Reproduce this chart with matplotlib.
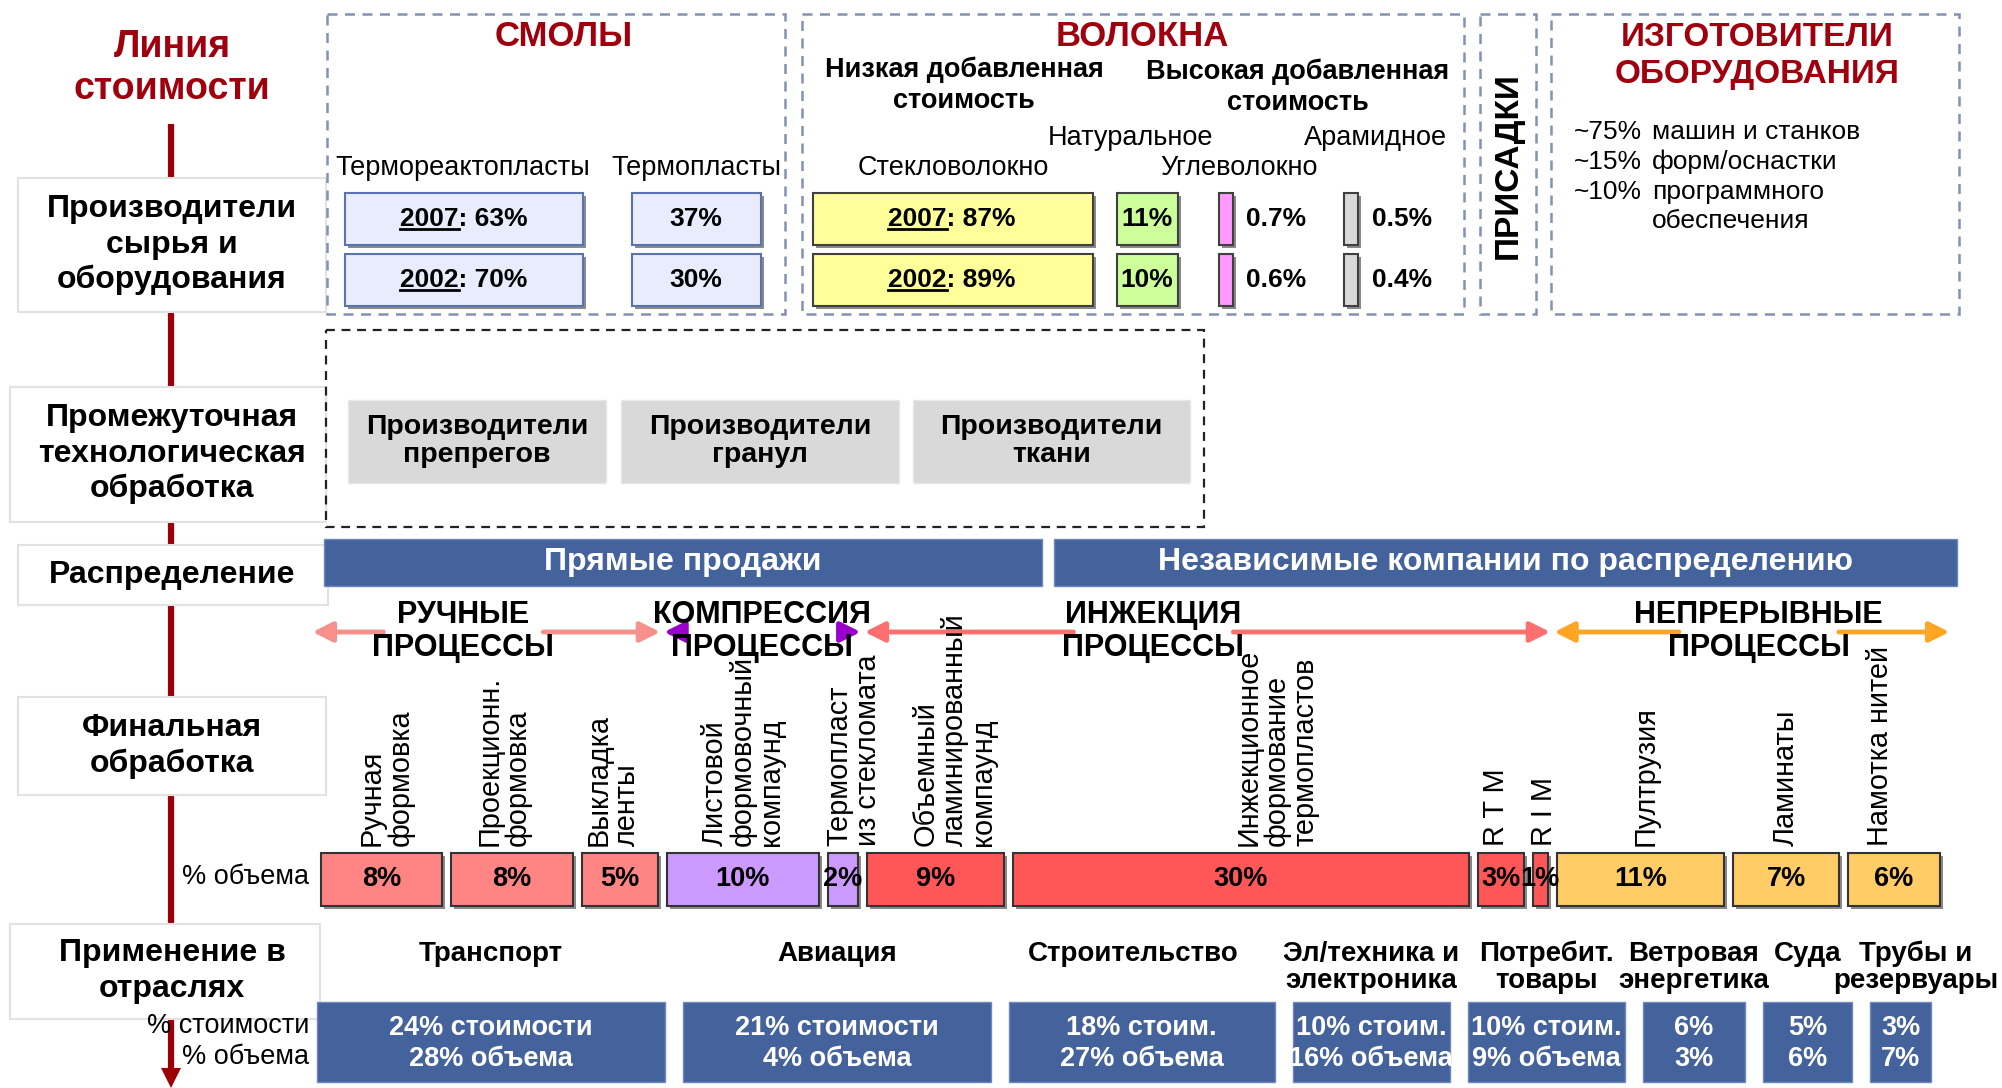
import matplotlib
matplotlib.use('Agg')
import matplotlib.pyplot as plt
from matplotlib.patches import Rectangle, Polygon

plt.rcParams['font.family'] = ['Liberation Sans', 'DejaVu Sans']

# ---- данные ----
stages = ['Производители\nсырья и\nоборудования', 'Промежуточная\nтехнологическая\nобработка',
          'Распределение', 'Финальная\nобработка', 'Применение в\nотраслях']
years = ['2007', '2002']
thermoset = [63, 70]
thermoplast = [37, 30]
glass_fiber = [87, 89]
natural_fiber = [11, 10]
carbon_fiber = [0.7, 0.6]
aramid_fiber = [0.5, 0.4]
equip_share = [75, 15, 10]
equip_items = ['машин и станков', 'форм/оснастки', 'программного\nобеспечения']
intermediates = ['Производители\nпрепрегов', 'Производители\nгранул', 'Производители\nткани']
channels = ['Прямые продажи', 'Независимые компании по распределению']
proc_groups = ['РУЧНЫЕ\nПРОЦЕССЫ', 'КОМПРЕССИЯ\nПРОЦЕССЫ', 'ИНЖЕКЦИЯ\nПРОЦЕССЫ', 'НЕПРЕРЫВНЫЕ\nПРОЦЕССЫ']
proc_names = ['Ручная\nформовка', 'Проекционн.\nформовка', 'Выкладка\nленты',
              'Листовой\nформовочный\nкомпаунд', 'Термопласт\nиз стекломата',
              'Объемный\nламинированный\nкомпаунд', 'Инжекционное\nформование\nтермопластов',
              'R T M', 'R I M', 'Пултрузия', 'Ламинаты', 'Намотка нитей']
proc_group = [0, 0, 0, 1, 1, 2, 2, 2, 2, 3, 3, 3]
proc_volume = [8, 8, 5, 10, 2, 9, 30, 3, 1, 11, 7, 6]
industries = ['Транспорт', 'Авиация', 'Строительство', 'Эл/техника и\nэлектроника',
              'Потребит.\nтовары', 'Ветровая\nэнергетика', 'Суда', 'Трубы и\nрезервуары']
ind_value = [24, 21, 18, 10, 10, 6, 5, 3]
ind_volume = [28, 4, 27, 16, 9, 3, 6, 7]
ind_value_word = ['стоимости', 'стоимости', 'стоим.', 'стоим.', 'стоим.', '', '', '']

# ---- оформление ----
DARK_RED = '#A0000E'
BLUE = '#44629C'
DASH = '#8492B2'
group_fill = ['#FF8585', '#CC99FF', '#FF5757', '#FFCC66']
group_arrow = ['#F5908C', '#9900CC', '#FF6F6F', '#FFA526']
heading_shift = [-23, 0, -54, 7]
label_shift = [5, -8, -7, 0, 11, 19, 36, -5, 4, 5, 0, -14]
header_shift = [0, 0, -8, 0, 0, 0, 0, 15]

W, H = 2002, 1088
fig = plt.figure(figsize=(W / 100, H / 100), dpi=100)
ax = fig.add_axes([0, 0, 1, 1])
ax.set_xlim(0, W)
ax.set_ylim(H, 0)
ax.axis('off')
rend = fig.canvas.get_renderer()


def txt(x, y, s, size, bold=False, color='black', ha='center', va='center', rot=0, z=5):
    return ax.text(x, y, s, fontsize=size, fontweight='bold' if bold else 'normal',
                   color=color, ha=ha, va=va, rotation=rot, zorder=z)


def lines(x, y0, s, step, size, bold=False, color='black', ha='center'):
    for i, ln in enumerate(s.split('\n')):
        txt(x, y0 + i * step, ln, size, bold, color, ha)


def box(x, y, w, h, fc, ec='none', lw=1.5, ls='-', z=2, shadow=False):
    if shadow:
        ax.add_patch(Rectangle((x + 3, y + 3), w, h, fc='#8a8a8a', ec='none', zorder=z - 0.5))
    ax.add_patch(Rectangle((x, y), w, h, fc=fc, ec=ec, lw=lw, ls=ls, zorder=z))


def year_text(cx, cy, year, value, size):
    # год подчёркнут, как в исходной схеме
    t = txt(cx, cy, f'{year}: {value}%', size, bold=True)
    full = t.get_window_extent(rend).width
    probe = txt(0, 0, year, size, bold=True)
    yw = probe.get_window_extent(rend).width
    probe.remove()
    x0 = cx - full / 2
    uy = cy + 0.5 * size
    ax.plot([x0, x0 + yw], [uy, uy], color='black', lw=2, zorder=6)


# ---- линия стоимости ----
lines(172, 47, 'Линия\nстоимости', 42, 27, bold=True, color=DARK_RED)
ax.plot([171, 171], [124, 1070], color='#9C0006', lw=4.5, solid_capstyle='butt', zorder=1)
ax.add_patch(Polygon([(161, 1068), (181, 1068), (171, 1088)], closed=True, fc='#9C0006', ec='none', zorder=1))

stage_box = [(18, 178, 308, 134), (10, 387, 316, 135), (18, 545, 310, 60), (18, 697, 308, 98), (10, 924, 310, 95)]
stage_y = [209, 418, 575, 728, 953]
for s, (bx, by, bw, bh), ty in zip(stages, stage_box, stage_y):
    box(bx, by, bw, bh, 'white', ec='#E2E2E2', lw=1.5, z=2)
    lines(172, ty, s, 35.5, 23, bold=True)

# ---- смолы ----
box(327, 14, 458, 300, 'none', ec=DASH, lw=1.8, ls=(0, (4, 3)), z=3)
txt(564, 37, 'СМОЛЫ', 25, bold=True, color=DARK_RED)
txt(463, 168, 'Термореактопласты', 19.5)
txt(696, 168, 'Термопласты', 19.5)
for i, yr in enumerate(years):
    by = 193 + i * 61
    box(345, by, 238, 52, '#E8ECFC', ec='#5873B0', lw=1.5, shadow=True)
    year_text(464, by + 26, yr, thermoset[i], 19)
    box(632, by, 129, 52, '#E8ECFC', ec='#5873B0', lw=1.5, shadow=True)
    txt(696, by + 26, f'{thermoplast[i]}%', 19, bold=True)

# ---- волокна ----
box(802, 14, 662, 300, 'none', ec=DASH, lw=1.8, ls=(0, (4, 3)), z=3)
txt(1142, 37, 'ВОЛОКНА', 25, bold=True, color=DARK_RED)
lines(964, 70, 'Низкая добавленная\nстоимость', 31, 19.5, bold=True)
lines(1298, 72, 'Высокая добавленная\nстоимость', 31, 19.5, bold=True)
txt(1131, 138, 'Натуральное', 19.5)
txt(1376, 138, 'Арамидное', 19.5)
txt(953, 168, 'Стекловолокно', 19.5)
txt(1239, 168, 'Углеволокно', 19.5)
for i, yr in enumerate(years):
    by = 193 + i * 61
    box(813, by, 280, 52, '#FFFF99', ec='#404040', lw=1.5, shadow=True)
    year_text(952, by + 26, yr, glass_fiber[i], 19)
    box(1117, by, 61, 52, '#CCFF99', ec='#404040', lw=1.5, shadow=True)
    txt(1147, by + 26, f'{natural_fiber[i]}%', 19, bold=True)
    box(1219, by, 14, 52, '#FF99FF', ec='#404040', lw=1.5, shadow=True)
    txt(1276, by + 26, f'{carbon_fiber[i]}%', 19, bold=True)
    box(1344, by, 14, 52, '#D9D9D9', ec='#404040', lw=1.5, shadow=True)
    txt(1402, by + 26, f'{aramid_fiber[i]}%', 19, bold=True)

# ---- присадки ----
box(1480, 14, 56, 300, 'none', ec=DASH, lw=1.8, ls=(0, (4, 3)), z=3)
txt(1508, 166, 'ПРИСАДКИ', 24, bold=True, rot=90)

# ---- изготовители оборудования ----
box(1551, 14, 408, 300, 'none', ec=DASH, lw=1.8, ls=(0, (4, 3)), z=3)
lines(1757, 38, 'ИЗГОТОВИТЕЛИ\nОБОРУДОВАНИЯ', 36, 24, bold=True, color=DARK_RED)
for i, (sh, item) in enumerate(zip(equip_share, equip_items)):
    y = 132 + i * 30
    txt(1574, y, f'~{sh}%', 19, ha='left')
    lines(1652, y, item, 29, 19, ha='left')

# ---- промежуточная обработка ----
box(326, 330, 878, 197, 'none', ec='#222222', lw=1.6, ls=(0, (4, 3)), z=3)
inter_x = [(348, 258), (621, 278), (913, 277)]
for name, (bx, bw) in zip(intermediates, inter_x):
    box(bx, 400, bw, 83, '#D9D9D9', ec='#E8E8E8', lw=1)
    lines(bx + bw / 2, 427, name, 28, 20.5, bold=True)

# ---- распределение ----
chan_x = [(324, 718), (1054, 903)]
for name, (bx, bw) in zip(channels, chan_x):
    box(bx, 539, bw, 47, BLUE, ec='#6F88BC', lw=1)
    txt(bx + bw / 2, 562, name, 23, bold=True, color='white')

# ---- финальная обработка: полосы ----
bar_x0, bar_x1, bar_gap = 320.5, 1939.5, 9
scale = (bar_x1 - bar_x0 - bar_gap * (len(proc_volume) - 1)) / sum(proc_volume)
bar_top, bar_h = 853, 53
lefts, rights = [], []
x = bar_x0
for i, v in enumerate(proc_volume):
    w = v * scale
    g = proc_group[i]
    box(x, bar_top, w, bar_h, group_fill[g], ec='#333333', lw=1.5, shadow=True)
    txt(x + w / 2, bar_top + bar_h / 2, f'{v}%', 19.5, bold=True)
    names = proc_names[i].split('\n')
    n = len(names)
    for j, ln in enumerate(names):
        lx = x + w / 2 + label_shift[i] + (j - (n - 1) / 2) * 28.5
        txt(lx, 846, ln, 20.8, ha='center', va='bottom', rot=90)
    lefts.append(x)
    rights.append(x + w)
    x += w + bar_gap

txt(309, 877, '% объема', 19.5, ha='right')

# ---- стрелки групп процессов ----
arrow_y = 632
ng = len(proc_groups)
g_left, g_right = [], []
for g in range(ng):
    idx = [i for i, pg in enumerate(proc_group) if pg == g]
    g_left.append(lefts[idx[0]])
    g_right.append(rights[idx[-1]])
edges = [g_left[0] - 10]
for g in range(ng - 1):
    edges.append((g_right[g] + g_left[g + 1]) / 2)
edges.append(g_right[-1] + 12)
for g in range(ng):
    a, b = edges[g] + 2, edges[g + 1] - 2
    c = (edges[g] + edges[g + 1]) / 2 + heading_shift[g]
    for tip, start in ((a, c - 80), (b, c + 80)):
        ax.annotate('', xy=(tip, arrow_y), xytext=(start, arrow_y),
                    arrowprops=dict(arrowstyle='-|>', color=group_arrow[g], lw=3.5,
                                    mutation_scale=30, shrinkA=0, shrinkB=0), zorder=4)
    lines(c, 615, proc_groups[g], 33, 22, bold=True)

# ---- применение в отраслях ----
ix = 317
for i, name in enumerate(industries):
    w = 13.66 * ind_value[i] + 20.4
    box(ix, 1002, w, 80, BLUE, ec='#6F88BC', lw=1, shadow=False)
    word = ind_value_word[i]
    top = f'{ind_value[i]}% {word}' if word else f'{ind_value[i]}%'
    bottom = f'{ind_volume[i]}% объема' if word else f'{ind_volume[i]}%'
    txt(ix + w / 2, 1028, top, 19.5, bold=True, color='white')
    txt(ix + w / 2, 1059, bottom, 19.5, bold=True, color='white')
    lines(ix + w / 2 + header_shift[i], 954, name, 27, 20, bold=True)
    ix += w + 18

txt(309, 1026, '% стоимости', 19.5, ha='right')
txt(309, 1057, '% объема', 19.5, ha='right')

fig.savefig('out.png', dpi=100, facecolor='white')
